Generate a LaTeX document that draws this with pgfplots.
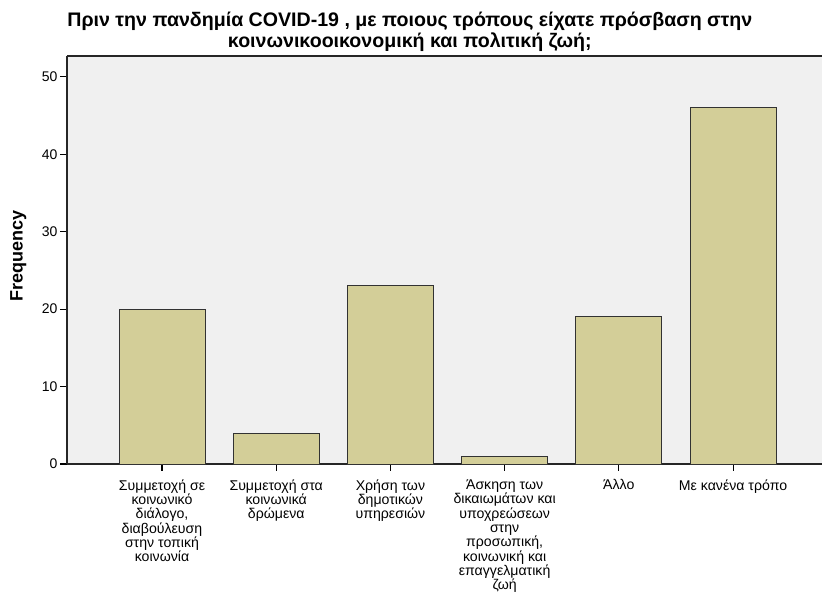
\documentclass[border=0pt]{standalone}
\usepackage{fontspec}
\setmainfont{Liberation Sans}
\usepackage{pgfplots}
\pgfplotsset{compat=1.18}
\usetikzlibrary{calc}
\definecolor{bgcol}{RGB}{240,240,240}
\definecolor{barcol}{RGB}{211,206,152}
\definecolor{edgecol}{RGB}{50,50,50}

\begin{document}
\begin{tikzpicture}
\begin{axis}[
    scale only axis,
    width=566.25pt, height=306pt,
    xmin=-0.832, xmax=5.779,
    ymin=0, ymax=52.7,
    axis x line*=bottom, axis y line*=left,
    axis line style={-, line width=0.9pt, color=black!85},
    axis background/.style={fill=bgcol},
    tick align=outside,
    major tick length=5pt,
    tick style={line width=0.8pt, color=black},
    ytick={0,10,20,30,40,50},
    xtick={0,1,2,3,4,5},
    xticklabels={
      {Συμμετοχή σε\\κοινωνικό\\διάλογο,\\διαβούλευση\\στην τοπική\\κοινωνία},
      {Συμμετοχή στα\\κοινωνικά\\δρώμενα},
      {Χρήση των\\δημοτικών\\υπηρεσιών},
      {Άσκηση των\\δικαιωμάτων και\\υποχρεώσεων\\στην\\προσωπική,\\κοινωνική και\\επαγγελματική\\ζωή},
      {Άλλο},
      {Με κανένα τρόπο}},
    xticklabel style={align=center, anchor=north, inner sep=2pt, yshift=-4.5pt,
      font=\fontsize{10.6}{10.75}\selectfont},
    yticklabel style={font=\fontsize{10.5}{12}\selectfont, inner sep=2pt},
    /pgf/number format/assume math mode=true,
    ylabel={Frequency},
    ylabel style={font=\bfseries\fontsize{13.5}{15}\selectfont,
      at={(ticklabel cs:0.51)}},
    ylabel shift=6pt,
    title={Πριν την πανδημία COVID-19 , με ποιους τρόπους είχατε πρόσβαση στην\\κοινωνικοοικονομική και πολιτική ζωή;},
    title style={at={(0.454,1)}, anchor=south, align=center, yshift=-6pt,
      font=\bfseries\fontsize{14.7}{15.3}\selectfont},
    clip=false,
  ]
  \addplot[ybar, bar width=0.753, fill=barcol, draw=edgecol, line width=0.7pt] coordinates {
    (0,20) (1,4) (2,23) (3,1) (4,19) (5,46)
  };
  \draw[line width=0.9pt, color=black!85] (rel axis cs:0,1) -- (rel axis cs:1,1);
  \coordinate (BL) at (rel axis cs:0,0);
  \coordinate (TR) at (rel axis cs:1,1);
\end{axis}
\pgfresetboundingbox
\useasboundingbox ($(BL)+(-50.25pt,-98.25pt)$) rectangle ($(TR)+(0,42pt)$);
\end{tikzpicture}
\end{document}
